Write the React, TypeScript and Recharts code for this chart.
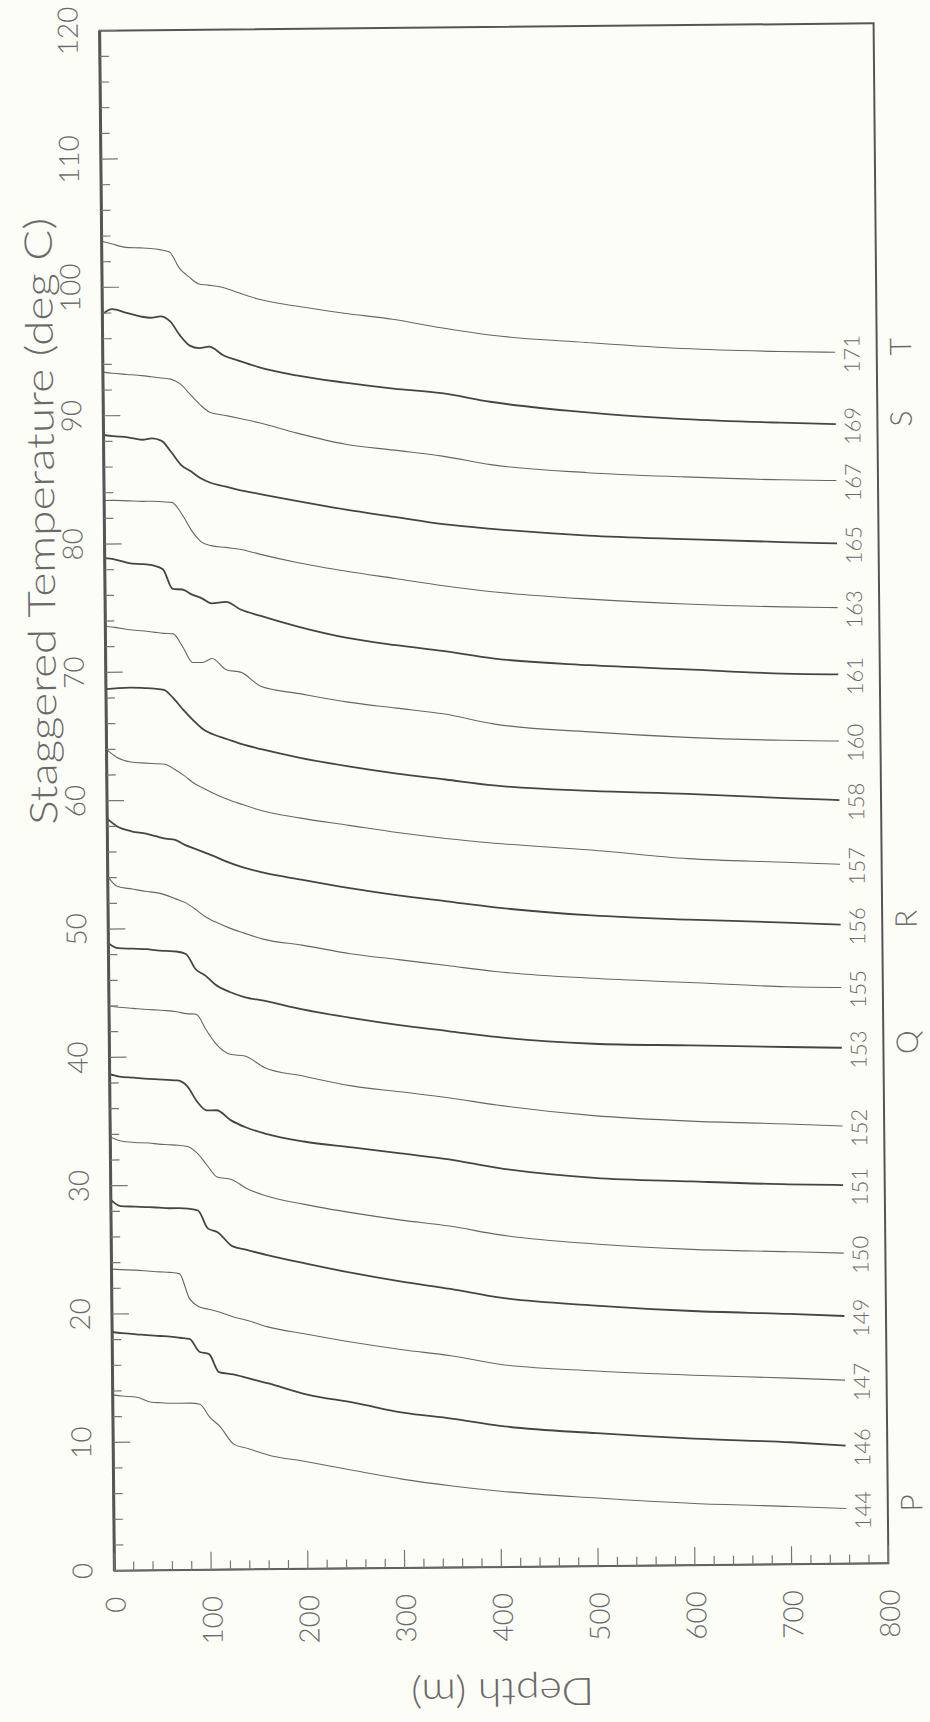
import { LineChart, Line, XAxis, YAxis, ReferenceArea } from "recharts";

// depth grid (m) shared by every profile
const DEPTHS = [0, 10, 25, 40, 50, 60, 70, 80, 90, 100, 110, 125, 140, 160, 200, 250, 300, 350, 400, 500, 600, 700, 757];

// staggered temperature (deg C) per station
const T144 = [13.7, 13.6, 13.5, 13.1, 13.05, 13.0, 13.0, 13.0, 12.9, 11.9, 11.2, 9.75, 9.4, 8.9, 8.35, 7.6, 6.9, 6.35, 5.9, 5.3, 4.8, 4.5, 4.3];
const T146 = [18.6, 18.5, 18.4, 18.3, 18.25, 18.2, 18.1, 18.0, 17.0, 16.8, 15.4, 15.2, 14.9, 14.5, 13.6, 12.9, 12.1, 11.6, 11.0, 10.35, 9.85, 9.5, 9.2];
const T147 = [23.5, 23.45, 23.4, 23.3, 23.25, 23.2, 23.1, 21.2, 20.5, 20.3, 20.1, 19.7, 19.4, 18.9, 18.3, 17.6, 17.0, 16.5, 15.8, 15.2, 14.8, 14.5, 14.3];
const T149 = [28.9, 28.4, 28.35, 28.3, 28.25, 28.2, 28.2, 28.15, 28.0, 26.6, 26.3, 25.2, 24.9, 24.5, 23.8, 23.0, 22.3, 21.7, 21.0, 20.3, 19.8, 19.5, 19.3];
const T150 = [33.8, 33.5, 33.35, 33.3, 33.2, 33.15, 33.1, 33.0, 32.45, 31.5, 30.6, 30.4, 29.7, 29.1, 28.4, 27.7, 27.1, 26.6, 25.9, 25.1, 24.6, 24.35, 24.2];
const T151 = [38.7, 38.5, 38.4, 38.3, 38.25, 38.2, 38.15, 37.7, 36.5, 35.8, 35.8, 35.0, 34.45, 33.95, 33.3, 32.8, 32.3, 31.8, 31.1, 30.25, 29.9, 29.6, 29.5];
const T152 = [44.0, 43.9, 43.8, 43.7, 43.65, 43.6, 43.5, 43.35, 43.3, 42.1, 41.0, 40.15, 40.0, 39.1, 38.4, 37.6, 37.1, 36.6, 36.0, 35.1, 34.6, 34.3, 34.1];
const T153 = [48.9, 48.5, 48.45, 48.4, 48.3, 48.25, 48.2, 48.0, 46.8, 46.3, 45.6, 45.0, 44.6, 44.3, 43.6, 42.9, 42.3, 41.8, 41.3, 40.7, 40.5, 40.3, 40.2];
const T155 = [54.1, 53.3, 53.1, 52.9, 52.8, 52.6, 52.3, 52.0, 51.5, 50.9, 50.5, 50.0, 49.6, 49.1, 48.6, 47.9, 47.4, 46.9, 46.4, 45.8, 45.4, 45.0, 44.9];
const T156 = [58.6, 58.0, 57.6, 57.4, 57.2, 57.0, 56.9, 56.5, 56.2, 55.9, 55.6, 55.1, 54.7, 54.3, 53.7, 53.0, 52.4, 51.9, 51.4, 50.7, 50.3, 50.0, 49.8];
const T157 = [64.0, 63.4, 63.0, 62.9, 62.85, 62.8, 62.4, 61.9, 61.3, 60.9, 60.5, 60.0, 59.6, 59.1, 58.5, 57.9, 57.3, 56.8, 56.4, 55.8, 55.05, 54.7, 54.5];
const T158 = [68.7, 68.75, 68.8, 68.75, 68.7, 68.6, 67.9, 67.0, 66.2, 65.5, 65.1, 64.7, 64.3, 63.9, 63.2, 62.5, 61.9, 61.4, 60.9, 60.4, 60.1, 59.7, 59.5];
const T160 = [73.6, 73.5, 73.3, 73.2, 73.1, 73.0, 72.95, 71.9, 70.7, 70.7, 71.0, 70.1, 69.9, 68.8, 68.2, 67.5, 67.0, 66.5, 65.7, 65.0, 64.5, 64.2, 64.1];
const T161 = [78.9, 78.8, 78.5, 78.4, 78.3, 78.0, 76.45, 76.4, 76.0, 75.7, 75.3, 75.4, 74.8, 74.3, 73.4, 72.5, 71.9, 71.4, 70.8, 70.2, 69.8, 69.4, 69.3];
const T163 = [83.4, 83.4, 83.35, 83.3, 83.3, 83.25, 83.2, 82.3, 81.0, 80.1, 79.8, 79.65, 79.5, 79.1, 78.4, 77.7, 77.1, 76.5, 76.0, 75.35, 74.9, 74.6, 74.5];
const T165 = [88.5, 88.4, 88.3, 88.1, 88.2, 88.0, 87.1, 86.1, 85.6, 85.05, 84.7, 84.4, 84.1, 83.8, 83.2, 82.5, 81.9, 81.3, 80.9, 80.3, 79.95, 79.65, 79.5];
const T167 = [93.4, 93.3, 93.2, 93.1, 93.0, 92.9, 92.8, 92.4, 91.6, 90.8, 90.2, 89.95, 89.7, 89.35, 88.5, 87.6, 87.1, 86.6, 85.9, 85.2, 84.8, 84.5, 84.4];
const T169 = [97.9, 98.3, 98.0, 97.7, 97.6, 97.7, 97.3, 96.2, 95.4, 95.2, 95.3, 94.6, 94.2, 93.7, 93.0, 92.4, 91.9, 91.5, 90.8, 89.9, 89.3, 88.95, 88.8];
const T171 = [103.6, 103.4, 103.1, 103.05, 103.0, 102.9, 102.7, 101.45, 100.75, 100.2, 100.1, 99.9, 99.5, 99.0, 98.4, 97.8, 97.3, 96.6, 96.0, 95.35, 94.8, 94.5, 94.4];

const CURVE_IDS = ["144", "146", "147", "149", "150", "151", "152", "153", "155", "156", "157", "158", "160", "161", "163", "165", "167", "169", "171"];
const CURVE_TEMPS = [T144, T146, T147, T149, T150, T151, T152, T153, T155, T156, T157, T158, T160, T161, T163, T165, T167, T169, T171];
const HEAVY_IDS = ["146", "149", "151", "153", "156", "158", "161", "165", "169"];
const GROUP_IDS = ["144", "153", "156", "169", "171"];
const GROUP_LETTERS = ["P", "Q", "R", "S", "T"];

const X_LABELS = [0, 100, 200, 300, 400, 500, 600, 700, 800];
const Y_LABELS = [0, 10, 20, 30, 40, 50, 60, 70, 80, 90, 100, 110, 120];
const X_TICKS = Array.from({ length: 41 }, (_, i) => i * 20);
const Y_TICKS = Array.from({ length: 61 }, (_, i) => i * 2);

const rows = DEPTHS.map((d, i) => {
  const row: Record<string, number> = { depth: d };
  CURVE_IDS.forEach((id, k) => {
    row["t" + id] = CURVE_TEMPS[k][i];
  });
  return row;
});

const FONT = "Lato, 'Open Sans', 'Liberation Sans', sans-serif";
const INK = "#6a6a6a";

const XTick = (props: any) => {
  const { x, y, payload } = props;
  const v = payload.value;
  const major = X_LABELS.includes(v);
  const ly = y + 26;
  return (
    <g>
      <line x1={x} x2={x} y1={y} y2={y - (major ? 18 : 9)} stroke="#777" strokeWidth={1.2} />
      {major && (
        <text x={x} y={ly} transform={`rotate(-90 ${x} ${ly})`} textAnchor="end" dominantBaseline="central"
          fontSize={28} fontWeight={300} fontFamily={FONT} fill={INK}>{v}</text>
      )}
    </g>
  );
};

const YTick = (props: any) => {
  const { x, y, payload } = props;
  const v = payload.value;
  const major = Y_LABELS.includes(v);
  const lx = x - 33;
  return (
    <g>
      <line x1={x} x2={x + (major ? 17 : 9)} y1={y} y2={y} stroke="#777" strokeWidth={1.2} />
      {major && (
        <text x={lx} y={y} transform={`rotate(-90 ${lx} ${y})`} textAnchor="middle" dominantBaseline="central"
          fontSize={28} fontWeight={300} fontFamily={FONT} fill={INK}>{v}</text>
      )}
    </g>
  );
};

const makeEndLabel = (id: string) => (props: any) => {
  const { x, y, index } = props;
  if (index !== DEPTHS.length - 1) return <g />;
  const lx = x + 16;
  const ly = y + 2;
  const gi = GROUP_IDS.indexOf(id);
  const px = x + 64;
  const py = y - 5;
  return (
    <g>
      <text x={lx} y={ly} transform={`rotate(-90 ${lx} ${ly})`} textAnchor="middle" dominantBaseline="central"
        fontSize={22} fontWeight={300} fontFamily={FONT} fill={INK}>{id}</text>
      {gi >= 0 && (
        <text x={px} y={py} transform={`rotate(-90 ${px} ${py})`} textAnchor="middle" dominantBaseline="central"
          fontSize={30} fontWeight={300} fontFamily={FONT} fill={INK}>{GROUP_LETTERS[gi]}</text>
      )}
    </g>
  );
};

export default function App() {
  return (
    <div style={{ position: "absolute", left: 0, top: 0, width: 930, height: 1722, background: "#fdfdf8", overflow: "hidden" }}>
      <div style={{ position: "absolute", left: 0, top: 0, width: 930, height: 1722, transform: "rotate(-0.55deg)", transformOrigin: "494px 797px" }}>
        <LineChart width={930} height={1722} data={rows} margin={{ top: 27, right: 49, bottom: 115, left: 47 }}>
          <XAxis dataKey="depth" type="number" domain={[0, 800]} ticks={X_TICKS} interval={0} height={40}
            tickSize={0} tickMargin={0} tickLine={false} axisLine={{ stroke: "#666", strokeWidth: 1.5 }} tick={<XTick />} />
          <YAxis type="number" domain={[0, 120]} ticks={Y_TICKS} interval={0} width={60}
            tickSize={0} tickMargin={0} tickLine={false} axisLine={{ stroke: "#555", strokeWidth: 3 }} tick={<YTick />} />
          <ReferenceArea x1={0} x2={800} y1={0} y2={120} fill="none" stroke="#555" strokeWidth={2} />
          {CURVE_IDS.map((id) => {
            const heavy = HEAVY_IDS.includes(id);
            return (
              <Line key={id} dataKey={"t" + id} type="monotone" dot={false} isAnimationActive={false}
                stroke={heavy ? "#454545" : "#666"} strokeWidth={heavy ? 1.8 : 1.1}
                label={makeEndLabel(id)} />
            );
          })}
        </LineChart>
        <svg width={930} height={1722} style={{ position: "absolute", left: 0, top: 0, pointerEvents: "none" }}>
          <text x={42} y={517} transform="rotate(-90 42 517)" textAnchor="middle" dominantBaseline="central"
            fontSize={38} fontWeight={300} fontFamily={FONT} fill={INK} textLength={607} lengthAdjust="spacingAndGlyphs">
            Staggered Temperature (deg C)
          </text>
          <text x={494} y={1694} transform="rotate(180 494 1694)" textAnchor="middle" dominantBaseline="central"
            fontSize={38} fontWeight={300} fontFamily={FONT} fill={INK} textLength={183} lengthAdjust="spacingAndGlyphs">
            Depth (m)
          </text>
        </svg>
      </div>
    </div>
  );
}
